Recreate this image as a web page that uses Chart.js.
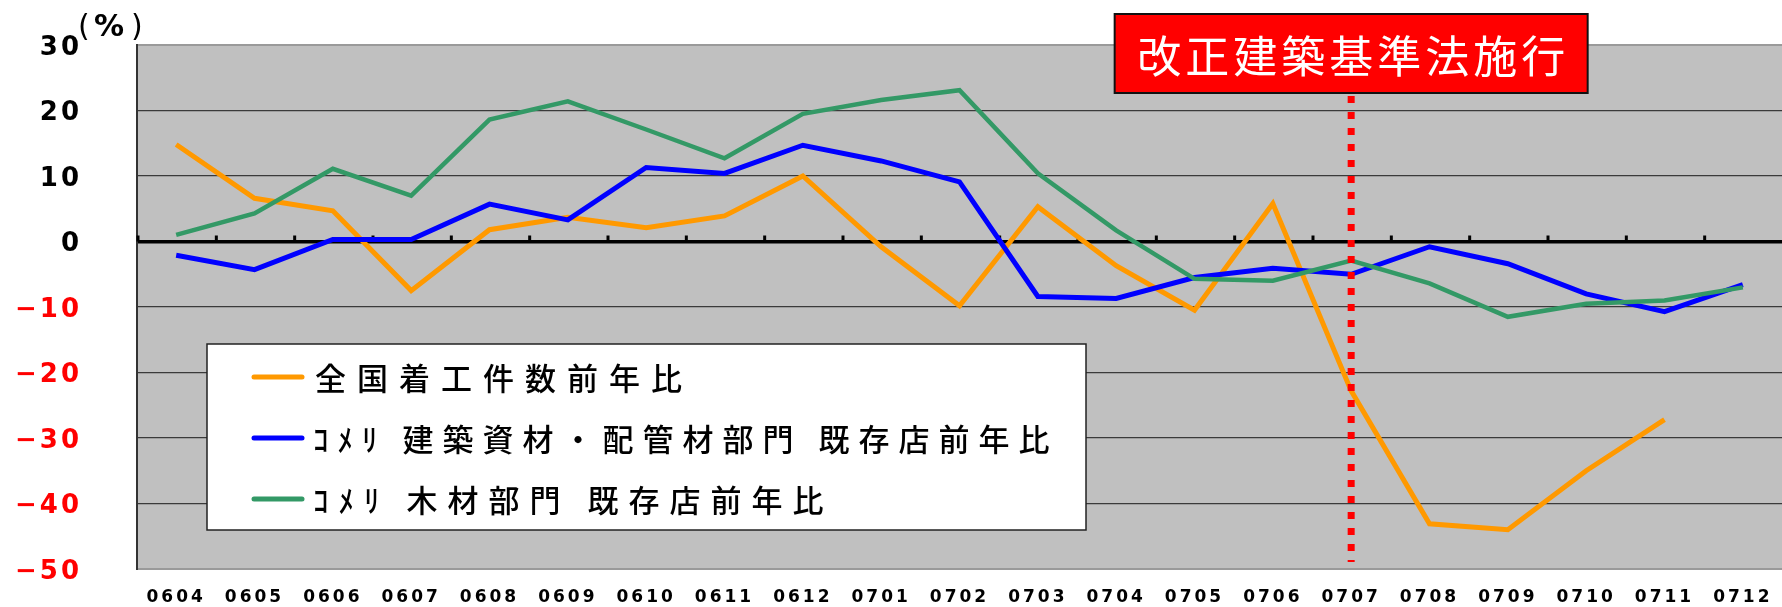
<!DOCTYPE html>
<html>
<head>
<meta charset="utf-8">
<script src="https://cdn.jsdelivr.net/npm/chart.js@4/dist/chart.umd.min.js"></script>
<style>
  html, body { margin: 0; padding: 0; background: #ffffff; }
  #wrap { width: 1782px; height: 607px; }
</style>
</head>
<body>
<div id="wrap"><canvas id="c" width="1782" height="607"></canvas></div>
<script>
// ---- data ----
const categories = ['0604','0605','0606','0607','0608','0609','0610','0611','0612','0701','0702',
                    '0703','0704','0705','0706','0707','0708','0709','0710','0711','0712'];
const housingStartsYoY = [14.8, 6.6, 4.7, -7.5, 1.8, 3.7, 2.1, 3.9, 10.0, -0.8, -9.8,
                          5.3, -3.7, -10.5, 5.8, -22.8, -43.1, -44.0, -35.0, -27.2, null];
const komeriBuildingYoY = [-2.1, -4.3, 0.3, 0.3, 5.7, 3.3, 11.3, 10.4, 14.7, 12.3, 9.1,
                           -8.4, -8.7, -5.5, -4.1, -5.0, -0.8, -3.4, -8.0, -10.7, -6.6];
const komeriLumberYoY = [1.0, 4.3, 11.1, 7.0, 18.6, 21.4, 17.1, 12.7, 19.5, 21.6, 23.1,
                         10.4, 1.7, -5.7, -6.0, -2.9, -6.4, -11.5, -9.5, -9.0, -7.0];
const seriesLabels = ['全国着工件数前年比', 'ｺﾒﾘ 建築資材・配管材部門 既存店前年比', 'ｺﾒﾘ 木材部門 既存店前年比'];
const seriesColors = ['#FF9900', '#0000FF', '#339966'];
const yMin = -50, yMax = 30, yStep = 10;
const unitLabel = '%';
const eventCategory = '0707';
const eventLabel = '改正建築基準法施行';

// ---- plugin for background, annotation and legend ----
const overlay = {
  id: 'overlay',
  beforeDraw(chart) {
    const { ctx, chartArea: a } = chart;
    ctx.save();
    ctx.fillStyle = '#C0C0C0';
    ctx.fillRect(a.left, a.top, a.right - a.left, a.bottom - a.top);
    ctx.restore();
    ctx.letterSpacing = '3px';
  },
  beforeDatasetsDraw(chart) {
    const { ctx, chartArea: a, scales } = chart;
    ctx.letterSpacing = '0px';
    const xs = scales.x, ys = scales.y;
    const y0 = ys.getPixelForValue(0);
    const cw = xs.getPixelForValue(1) - xs.getPixelForValue(0);
    ctx.save();
    ctx.strokeStyle = '#000';
    ctx.lineWidth = 3;
    for (let i = 0; i < categories.length; i++) {
      const bx = xs.getPixelForValue(i) - cw / 2;
      ctx.beginPath();
      ctx.moveTo(bx + 1, y0);
      ctx.lineTo(bx + 1, y0 - 6);
      ctx.stroke();
    }
    ctx.restore();
  },
  afterDatasetsDraw(chart) {
    const { ctx, chartArea: a, scales } = chart;
    const xs = scales.x;
    const ex = xs.getPixelForValue(categories.indexOf(eventCategory));
    ctx.save();
    // dotted event line
    ctx.strokeStyle = '#FF0000';
    ctx.lineWidth = 7;
    ctx.setLineDash([7, 9]);
    ctx.beginPath();
    ctx.moveTo(ex, 96);
    ctx.lineTo(ex, a.bottom - 7);
    ctx.stroke();
    ctx.setLineDash([]);
    // event box
    const bw = 473, bh = 79, bt = 14;
    ctx.fillStyle = '#FF0000';
    ctx.fillRect(ex - bw / 2, bt, bw, bh);
    ctx.strokeStyle = '#111';
    ctx.lineWidth = 2;
    ctx.strokeRect(ex - bw / 2, bt, bw, bh);
    ctx.fillStyle = '#FFFFFF';
    ctx.font = '44px "Noto Sans CJK JP"';
    ctx.letterSpacing = '4px';
    ctx.textAlign = 'center';
    ctx.textBaseline = 'middle';
    ctx.fillText(eventLabel, ex + 2, bt + bh / 2 + 3);
    // legend box
    ctx.letterSpacing = '0px';
    ctx.fillStyle = '#FFFFFF';
    ctx.fillRect(207, 344, 879, 186);
    ctx.strokeStyle = '#222';
    ctx.lineWidth = 1.5;
    ctx.strokeRect(207, 344, 879, 186);
    const rowsY = [377, 438, 499];
    const spacing = ['11px', '9px', '10px'];
    const textX = [315, 313, 313];
    chart.data.datasets.forEach((ds, i) => {
      ctx.strokeStyle = ds.borderColor;
      ctx.lineWidth = 5;
      ctx.lineCap = 'round';
      ctx.beginPath();
      ctx.moveTo(254, rowsY[i]);
      ctx.lineTo(302, rowsY[i]);
      ctx.stroke();
      ctx.fillStyle = '#000';
      ctx.font = '500 31px "Noto Sans CJK JP"';
      ctx.letterSpacing = spacing[i];
      ctx.textAlign = 'left';
      ctx.textBaseline = 'middle';
      ctx.fillText(ds.label, textX[i], rowsY[i] + 1);
    });
    ctx.letterSpacing = '0px';
    // unit label (%)
    ctx.fillStyle = '#000';
    ctx.textBaseline = 'alphabetic';
    ctx.textAlign = 'left';
    ctx.font = '30px "DejaVu Sans"';
    ctx.fillText('(', 78, 36);
    ctx.font = 'bold 30px "DejaVu Sans"';
    ctx.fillText(unitLabel, 94, 36);
    ctx.font = '30px "DejaVu Sans"';
    ctx.fillText(')', 131, 36);
    ctx.restore();
  }
};

const datasets = [housingStartsYoY, komeriBuildingYoY, komeriLumberYoY].map((vals, i) => ({
  label: seriesLabels[i],
  data: vals,
  borderColor: seriesColors[i],
  backgroundColor: seriesColors[i],
  borderWidth: i === 2 ? 4.5 : 5,
  pointRadius: 0,
  tension: 0,
  fill: false,
  spanGaps: false,
  order: 3 - i
}));

new Chart(document.getElementById('c'), {
  type: 'line',
  data: { labels: categories, datasets },
  plugins: [overlay],
  options: {
    responsive: false,
    devicePixelRatio: 1,
    animation: false,
    layout: { padding: { top: 45, left: 0, right: 0, bottom: 0 } },
    plugins: { legend: { display: false }, tooltip: { enabled: false } },
    scales: {
      x: {
        offset: true,
        grid: { display: false, drawTicks: false },
        border: { display: false },
        ticks: {
          color: '#000',
          font: { family: '"DejaVu Sans"', size: 17, weight: 'bold' },
          padding: 18,
          maxRotation: 0,
          autoSkip: false
        },
        afterFit(scale) { scale.height = 38; scale.paddingLeft = 0; scale.paddingRight = 0; }
      },
      y: {
        min: yMin,
        max: yMax,
        border: { display: true, color: '#333', width: 2 },
        grid: {
          drawTicks: false,
          color: (c) => {
            const v = c.tick ? c.tick.value : null;
            if (v === yMax || v === yMin) return '#9a9a9a';
            if (v === 0) return '#000';
            return '#3a3a3a';
          },
          lineWidth: (c) => {
            const v = c.tick ? c.tick.value : null;
            if (v === 0) return 3.5;
            if (v === yMax || v === yMin) return 2;
            return 1.3;
          }
        },
        ticks: {
          stepSize: yStep,
          padding: 55,
          labelOffset: 3,
          font: { family: '"DejaVu Sans"', size: 26, weight: 'bold' },
          color: (c) => (c.tick && c.tick.value < 0 ? '#FF0000' : '#000'),
          callback: (v) => (v < 0 ? '\u2212' + Math.abs(v) : String(v))
        },
        afterFit(scale) { scale.width = 137; scale.paddingTop = 0; scale.paddingBottom = 0; }
      }
    }
  }
});
</script>
</body>
</html>
